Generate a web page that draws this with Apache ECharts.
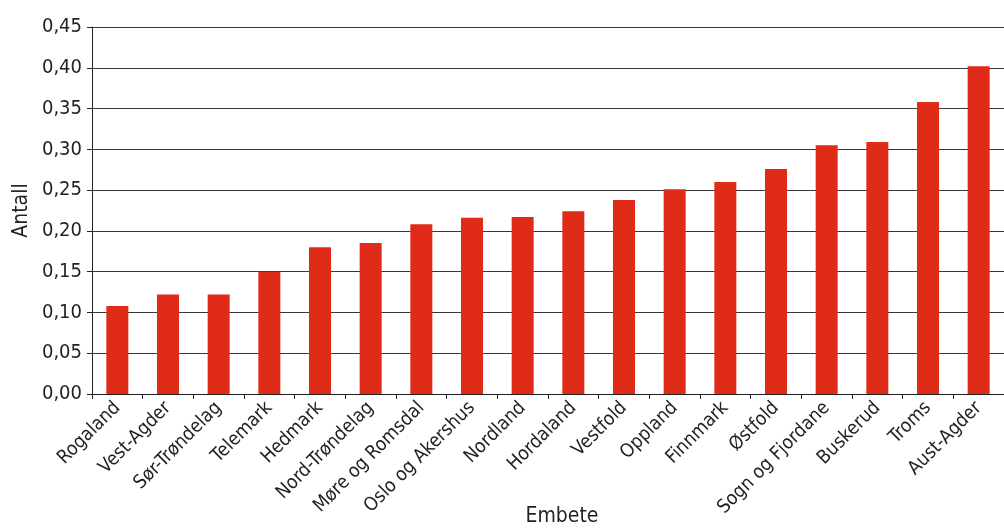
<!DOCTYPE html>
<html>
<head>
<meta charset="utf-8">
<script src="https://cdn.jsdelivr.net/npm/echarts@6/dist/echarts.min.js"></script>
<style>html,body{margin:0;padding:0;background:#fff}#c{width:1004px;height:531px}</style>
</head>
<body>
<div id="c"></div>
<script>
const categories = ["Rogaland","Vest-Agder","Sør-Trøndelag","Telemark","Hedmark","Nord-Trøndelag","Møre og Romsdal","Oslo og Akershus","Nordland","Hordaland","Vestfold","Oppland","Finnmark","Østfold","Sogn og Fjordane","Buskerud","Troms","Aust-Agder"];
const values = [0.108,0.122,0.122,0.150,0.180,0.185,0.208,0.216,0.217,0.224,0.238,0.251,0.260,0.276,0.305,0.309,0.358,0.402];
const yTicks = {min: 0, max: 0.45, interval: 0.05};
const FONT = '"Liberation Sans Narrow","DejaVu Sans Condensed","Roboto",sans-serif';
const chart = echarts.init(document.getElementById('c'));
chart.setOption({
  animation: false,
  grid: {left: 92, right: 0, top: 27, bottom: 137, containLabel: false, outerBoundsMode: 'none'},
  xAxis: {
    type: 'category', data: categories,
    name: 'Embete', nameLocation: 'middle', nameGap: 112, nameMoveOverlap: false,
    nameTextStyle: {fontFamily: FONT, fontSize: 21, color: '#231f20', padding: [0, 0, 0, 28]},
    axisLine: {lineStyle: {color: '#231f20', width: 1}},
    axisTick: {show: true, alignWithLabel: false, length: 5, lineStyle: {color: '#231f20'}},
    axisLabel: {rotate: 45, interval: 0, margin: 11, fontFamily: FONT, fontSize: 19, color: '#231f20'}
  },
  yAxis: {
    type: 'value', min: yTicks.min, max: yTicks.max, interval: yTicks.interval,
    name: 'Antall', nameLocation: 'middle', nameGap: 60, nameMoveOverlap: false,
    nameTextStyle: {fontFamily: FONT, fontSize: 21, color: '#231f20'},
    axisLine: {show: true, lineStyle: {color: '#231f20', width: 1}},
    axisTick: {show: true, length: 5, lineStyle: {color: '#231f20'}},
    axisLabel: {margin: 10, fontFamily: FONT, fontSize: 20, color: '#231f20',
      formatter: v => v.toFixed(2).replace('.', ',')},
    splitLine: {show: true, lineStyle: {color: '#3a3738', width: 1.2}}
  },
  series: [{
    type: 'bar', data: values, barWidth: 22,
    itemStyle: {color: '#e02b19'}
  }]
});
</script>
</body>
</html>
